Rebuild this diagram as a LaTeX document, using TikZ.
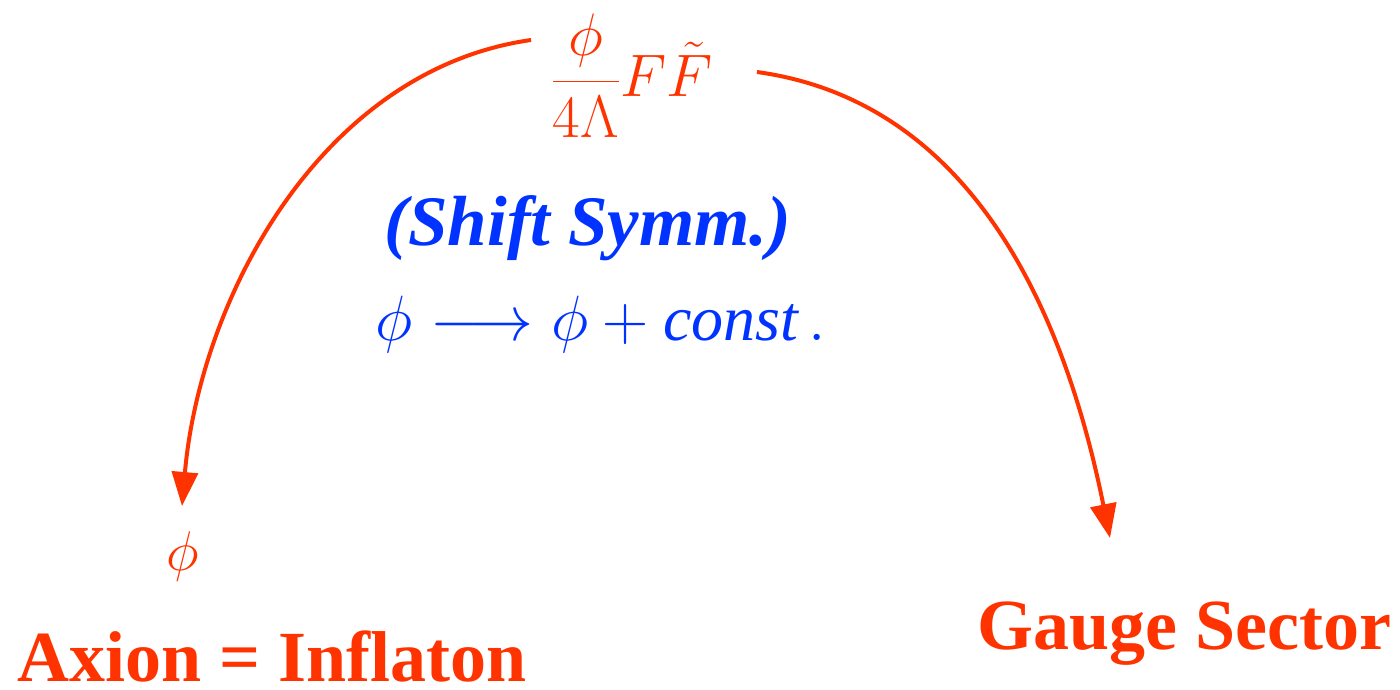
\RequirePackage{fix-cm}
\documentclass[tikz,border=0pt]{standalone}
\usepackage{fontspec}
\setmainfont{Liberation Serif}
\usetikzlibrary{arrows.meta}
\definecolor{myred}{RGB}{255,51,0}
\definecolor{myblue}{RGB}{0,51,255}
\tikzset{
  conn/.style={draw=myred, line width=4pt, -{Triangle[width=26pt,length=34pt]}},
  redtxt/.style={text=myred, inner sep=0pt},
  bluetxt/.style={text=myblue, inner sep=0pt},
}
\begin{document}
\begin{tikzpicture}[x=1pt,y=-1pt]
\useasboundingbox (0,0) rectangle (1400,690);
% top formula
\node[redtxt, font=\fontsize{60}{72}\selectfont] (top) at (632,76) {$\displaystyle\frac{\phi}{4\Lambda}F\tilde{F}$};
% blue texts
\node[bluetxt, font=\fontsize{71}{80}\selectfont\bfseries\itshape, anchor=base] (shift) at (588,245) {(Shift Symm.)};
\node[bluetxt, font=\fontsize{64}{72}\selectfont, anchor=base] (rule) at (601,340) {$\phi\longrightarrow\phi+\textit{const}\,.$};
% bottom
\node[redtxt, font=\fontsize{56}{68}\selectfont, anchor=base] (phi) at (183,570) {$\phi$};
\node[redtxt, font=\fontsize{72}{80}\selectfont\bfseries, anchor=base] (axion) at (272,681) {Axion = Inflaton};
\node[redtxt, font=\fontsize{72}{80}\selectfont\bfseries, anchor=base] (gauge) at (1184,649) {Gauge Sector};
% connector endpoints
\coordinate (ls) at (531,40);
\coordinate (le) at (182,506);
\coordinate (rs) at (757,72);
\coordinate (re) at (1110,538);
\draw[conn] (ls) .. controls (320,70) and (200,300) .. (le);
\draw[conn] (rs) .. controls (960,100) and (1060,290) .. (re);
\end{tikzpicture}
\end{document}
